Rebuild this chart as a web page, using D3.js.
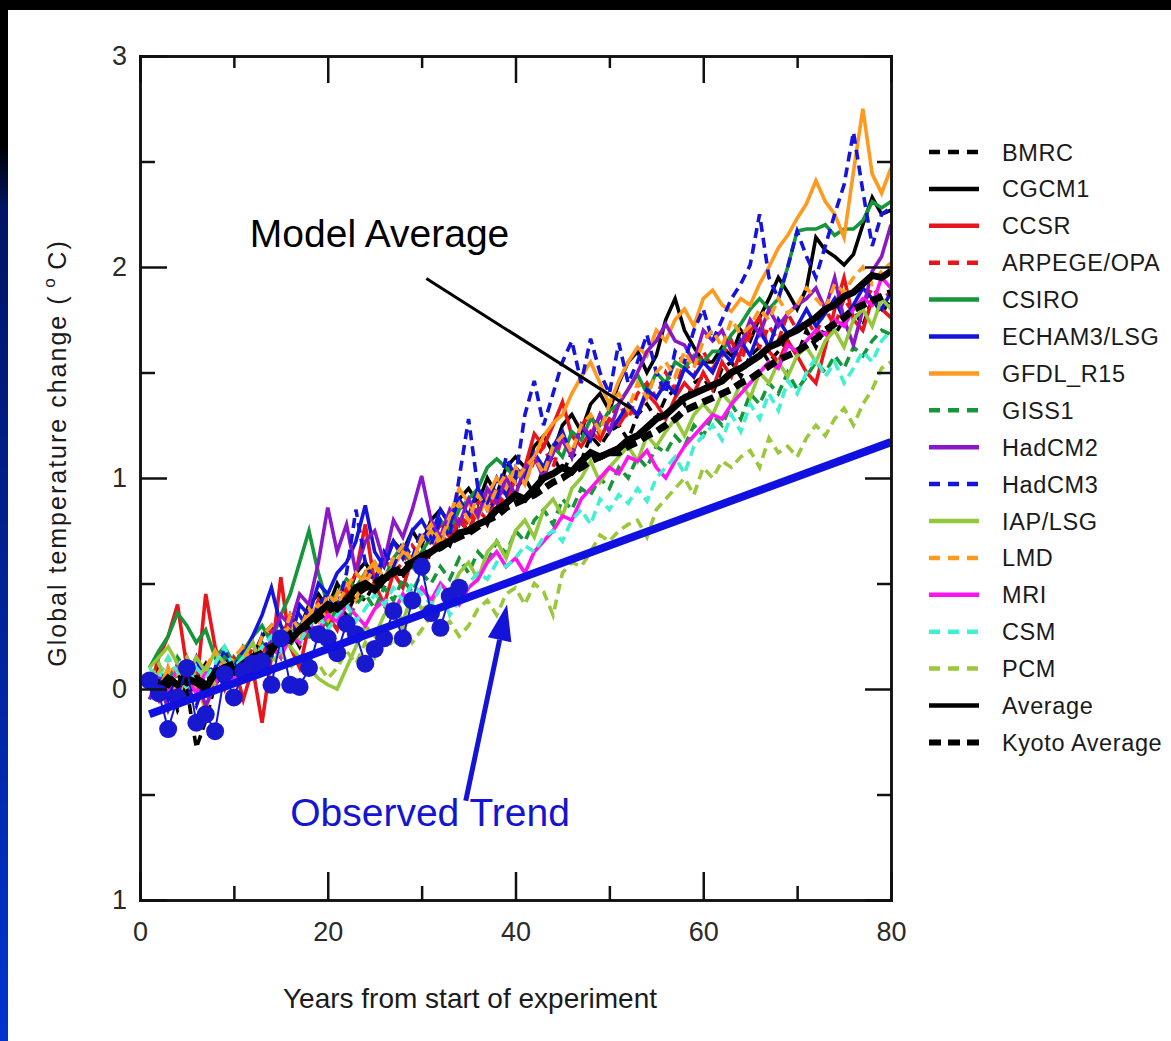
<!DOCTYPE html>
<html><head><meta charset="utf-8">
<script src="https://cdn.jsdelivr.net/npm/d3@7"></script>
<style>body{margin:0;background:#fff;overflow:hidden}svg{display:block}</style>
</head><body><svg id="c" width="1171" height="1041"></svg>
<script>
// ---------- DATA ----------
const years = d3.range(1, 81);
const BMRC = [0.02,-0.05,0.05,-0.10,0.00,-0.28,-0.15,0.02,0.08,0.05, 0.12,0.05,0.18,0.22,0.15,0.28,0.20,0.30,0.35,0.28, 0.40,0.35,0.45,0.42,0.50,0.48,0.58,0.52,0.60,0.55, 0.65,0.72,0.68,0.80,0.75,0.85,0.78,0.90,0.88,0.95, 1.00,0.92,1.05,1.10,1.02,1.12,1.08,1.20,1.15,1.22, 1.25,1.18,1.30,1.35,1.28,1.38,1.42,1.35,1.45,1.48, 1.40,1.52,1.55,1.48,1.58,1.62,1.55,1.60,1.65,1.58, 1.70,1.62,1.72,1.68,1.75,1.80,1.72,1.85,1.78,1.85];
const CGCM1 = [0.05,0.10,0.00,0.08,-0.05,0.05,0.12,0.02,0.15,0.10, 0.20,0.15,0.25,0.30,0.22,0.35,0.28,0.40,0.45,0.38, 0.50,0.42,0.55,0.60,0.52,0.62,0.70,0.65,0.75,0.68, 0.80,0.85,0.78,0.90,0.95,0.88,1.00,0.92,1.05,1.10, 1.05,1.15,1.20,1.12,1.25,1.30,1.22,1.35,1.40,1.32, 1.45,1.55,1.60,1.50,1.58,1.75,1.85,1.70,1.62,1.55, 1.55,1.62,1.58,1.70,1.65,1.76,1.85,1.95,1.88,1.80, 1.90,2.14,2.08,2.05,2.01,2.06,2.20,2.33,2.25,2.27];
const CCSR = [0.00,0.15,0.25,0.40,0.10,0.00,0.45,0.20,0.05,0.12, -0.05,0.10,-0.16,0.15,0.53,0.20,0.10,0.30,0.25,0.35, 0.28,0.45,0.55,0.78,0.50,0.40,0.55,0.48,0.62,0.58, 0.65,0.72,0.70,0.80,0.75,0.85,0.80,0.92,0.88,1.00, 1.05,1.21,1.15,1.25,1.36,1.20,1.15,1.22,1.18,1.28, 1.25,1.32,1.30,1.40,1.35,1.28,1.38,1.45,1.40,1.50, 1.42,1.55,1.48,1.60,1.70,1.76,1.60,1.55,1.65,1.58, 1.50,1.45,1.62,1.80,1.95,1.75,1.70,1.85,1.80,1.76];
const ARPEGE = [0.05,-0.05,0.10,0.00,0.15,0.05,-0.05,0.10,0.00,0.15, 0.10,0.20,0.15,0.28,0.22,0.35,0.25,0.30,0.42,0.35, 0.40,0.48,0.42,0.55,0.50,0.62,0.55,0.60,0.68,0.62, 0.70,0.78,0.72,0.82,0.78,0.88,0.92,0.85,0.98,1.05, 0.98,1.08,1.15,1.05,1.20,1.12,1.25,1.30,1.20,1.28, 1.35,1.28,1.40,1.45,1.38,1.50,1.42,1.55,1.48,1.60, 1.52,1.58,1.65,1.55,1.68,1.62,1.72,1.65,1.78,1.70, 1.75,1.68,1.80,1.72,1.85,1.78,1.82,1.90,1.85,1.88];
const CSIRO = [0.10,0.18,0.25,0.36,0.30,0.22,0.28,0.15,0.20,0.12, 0.18,0.25,0.30,0.22,0.35,0.45,0.60,0.75,0.55,0.40, 0.45,0.52,0.48,0.55,0.60,0.52,0.62,0.68,0.58,0.65, 0.72,0.80,0.75,0.85,0.90,0.95,1.05,1.09,1.05,1.00, 1.03,1.10,1.05,1.15,1.10,1.22,1.18,1.28,1.25,1.32, 1.35,1.42,1.49,1.40,1.50,1.45,1.55,1.52,1.58,1.55, 1.60,1.60,1.68,1.73,1.80,1.85,1.80,1.85,2.00,2.17, 2.18,2.18,2.20,2.15,2.18,2.18,2.22,2.31,2.28,2.31];
const ECHAM3 = [0.00,0.08,-0.02,0.12,0.05,0.15,0.00,0.10,0.18,0.08, 0.15,0.25,0.35,0.48,0.30,0.22,0.40,0.35,0.50,0.45, 0.55,0.60,0.70,0.87,0.65,0.58,0.70,0.62,0.75,0.80, 0.72,0.85,0.78,0.90,0.82,0.95,0.88,1.00,0.92,1.05, 1.00,1.12,1.05,1.15,1.22,1.10,1.25,1.18,1.30,1.22, 1.28,1.35,1.30,1.42,1.38,1.45,1.40,1.52,1.48,1.55, 1.50,1.60,1.55,1.65,1.58,1.70,1.62,1.75,1.68,1.72, 1.80,1.72,1.78,1.85,1.75,1.82,1.90,1.85,1.80,1.88];
const GFDL = [0.05,0.00,0.10,-0.05,0.08,0.02,-0.10,0.05,0.12,0.08, 0.15,0.10,0.22,0.18,0.25,0.30,0.22,0.35,0.40,0.32, 0.45,0.50,0.42,0.55,0.60,0.52,0.58,0.65,0.62,0.70, 0.75,0.68,0.82,0.95,0.88,0.81,0.92,1.00,0.95,1.05, 0.97,1.10,1.20,1.26,1.30,1.40,1.48,1.55,1.45,1.35, 1.46,1.55,1.62,1.58,1.70,1.65,1.75,1.80,1.72,1.85, 1.89,1.82,1.79,1.85,1.82,1.92,2.00,2.09,2.15,2.23, 2.30,2.41,2.31,2.25,2.14,2.45,2.75,2.44,2.35,2.47];
const GISS1 = [0.05,0.12,0.02,0.15,0.08,0.00,0.10,0.05,0.15,0.10, 0.18,0.10,0.22,0.15,0.25,0.20,0.30,0.25,0.35,0.30, 0.38,0.32,0.40,0.45,0.38,0.48,0.42,0.52,0.46,0.55, 0.50,0.58,0.52,0.62,0.55,0.65,0.60,0.70,0.64,0.75, 0.70,0.80,0.85,0.78,0.90,0.85,0.95,0.92,1.00,0.95, 1.05,1.00,1.10,1.05,1.15,1.12,1.20,1.15,1.25,1.20, 1.30,1.25,1.35,1.28,1.40,1.35,1.45,1.40,1.50,1.42, 1.48,1.55,1.50,1.58,1.52,1.62,1.58,1.65,1.70,1.68];
const HadCM2 = [-0.05,0.05,-0.10,0.00,0.10,0.05,-0.08,0.02,0.12,0.08, 0.15,0.22,0.10,0.25,0.35,0.30,0.45,0.40,0.60,0.86, 0.65,0.78,0.55,0.70,0.75,0.60,0.80,0.72,0.85,1.01, 0.80,0.72,0.85,0.78,0.90,0.82,0.95,0.88,1.00,0.92, 1.05,1.10,1.00,1.12,1.18,1.10,1.25,1.20,1.30,1.22, 1.35,1.42,1.50,1.60,1.65,1.73,1.65,1.63,1.55,1.70, 1.65,1.70,1.60,1.63,1.75,1.68,1.80,1.72,1.78,1.82, 1.85,1.90,1.80,1.95,1.75,1.63,1.80,1.98,2.05,2.20];
const HadCM3 = [0.00,0.05,-0.05,0.10,0.02,-0.08,0.05,0.12,0.00,0.10, 0.18,0.10,0.25,0.15,0.30,0.22,0.35,0.28,0.40,0.45, 0.38,0.55,0.85,0.60,0.50,0.65,0.58,0.70,0.62,0.75, 0.68,0.80,0.72,1.00,1.28,0.95,0.85,0.90,1.10,1.00, 1.30,1.46,1.25,1.40,1.55,1.65,1.45,1.66,1.50,1.40, 1.64,1.45,1.55,1.68,1.50,1.40,1.60,1.55,1.70,1.80, 1.65,1.75,1.85,1.92,2.01,2.25,1.95,1.85,2.00,2.17, 2.05,1.95,2.10,2.25,2.39,2.64,2.36,2.10,2.25,2.28];
const IAPLSG = [0.10,0.15,0.20,0.12,0.05,0.15,0.08,0.18,0.12,0.05, 0.15,0.22,0.10,0.18,0.25,0.20,0.15,0.10,0.05,0.02, 0.00,0.10,0.20,0.30,0.25,0.35,0.40,0.32,0.45,0.38, 0.40,0.50,0.45,0.55,0.60,0.52,0.65,0.70,0.62,0.75, 0.80,0.72,0.85,0.90,0.82,0.95,1.00,1.08,0.98,1.05, 1.10,1.15,1.08,1.20,1.15,1.22,1.28,1.20,1.30,1.35, 1.30,1.40,1.35,1.45,1.38,1.50,1.45,1.55,1.48,1.58, 1.62,1.55,1.65,1.70,1.62,1.75,1.80,1.72,1.85,1.80];
const LMD = [0.00,0.08,0.15,0.05,0.12,0.00,0.10,0.18,0.08,0.15, 0.20,0.12,0.25,0.30,0.22,0.35,0.28,0.38,0.32,0.45, 0.40,0.48,0.55,0.50,0.58,0.52,0.62,0.68,0.60,0.72, 0.78,0.70,0.82,0.88,0.80,0.92,0.85,0.95,1.02,0.98, 1.05,1.10,1.02,1.15,1.20,1.12,1.25,1.30,1.22,1.35, 1.40,1.32,1.45,1.38,1.50,1.55,1.48,1.60,1.52,1.65, 1.70,1.62,1.75,1.68,1.72,1.80,1.75,1.85,1.78,1.82, 1.90,1.85,1.80,1.92,1.88,1.95,2.00,1.92,1.98,2.02];
const MRI = [0.05,-0.05,0.00,0.10,0.05,-0.02,0.08,0.02,0.12,0.05, 0.10,0.15,0.08,0.20,0.15,0.25,0.22,0.30,0.28,0.35, 0.32,0.40,0.35,0.30,0.38,0.42,0.36,0.45,0.40,0.48, 0.42,0.50,0.45,0.40,0.48,0.52,0.60,0.65,0.58,0.62, 0.55,0.65,0.70,0.75,0.82,0.80,0.90,0.95,1.00,1.05, 1.02,1.10,1.08,1.13,1.05,1.00,1.08,1.15,1.20,1.25, 1.30,1.28,1.35,1.40,1.45,1.50,1.55,1.52,1.63,1.60, 1.65,1.70,1.68,1.75,1.72,1.80,1.85,1.82,1.95,1.90];
const CSM = [0.10,0.05,0.15,0.08,0.00,0.10,0.05,0.12,0.20,0.10, 0.15,0.12,0.20,0.25,0.18,0.28,0.22,0.30,0.35,0.28, 0.35,0.40,0.32,0.38,0.45,0.40,0.48,0.42,0.50,0.45, 0.40,0.48,0.35,0.42,0.50,0.55,0.52,0.60,0.58,0.62, 0.68,0.65,0.72,0.75,0.70,0.80,0.85,0.78,0.90,0.85, 0.92,0.88,0.95,0.89,1.00,1.05,1.10,1.02,1.15,1.20, 1.25,1.18,1.30,1.22,1.35,1.28,1.40,1.32,1.46,1.40, 1.50,1.57,1.48,1.55,1.45,1.52,1.60,1.55,1.65,1.70];
const PCM = [0.05,0.12,0.00,0.08,0.15,0.05,0.10,0.02,0.12,0.08, 0.15,0.10,0.05,0.12,0.18,0.10,0.15,0.08,0.12,0.05, 0.10,0.18,0.12,0.22,0.15,0.25,0.20,0.30,0.22,0.28, 0.35,0.28,0.32,0.25,0.30,0.38,0.42,0.35,0.45,0.48, 0.40,0.50,0.46,0.35,0.55,0.60,0.58,0.65,0.73,0.70, 0.75,0.78,0.80,0.72,0.85,0.90,0.95,1.00,0.92,1.05, 1.00,1.08,1.05,1.10,1.13,1.05,1.19,1.12,1.15,1.10, 1.19,1.25,1.20,1.28,1.33,1.25,1.35,1.42,1.52,1.55];
const AVERAGE = [0.02,0.00,0.05,0.02,0.05,0.03,0.00,0.08,0.10,0.08, 0.12,0.15,0.13,0.18,0.25,0.23,0.28,0.32,0.36,0.40, 0.38,0.42,0.48,0.50,0.47,0.52,0.56,0.55,0.60,0.63, 0.65,0.68,0.70,0.74,0.75,0.78,0.80,0.85,0.88,0.92, 0.90,0.95,1.00,1.02,1.05,1.03,1.08,1.12,1.10,1.12, 1.14,1.18,1.20,1.24,1.28,1.30,1.34,1.38,1.40,1.42, 1.44,1.46,1.50,1.52,1.55,1.58,1.62,1.64,1.68,1.70, 1.73,1.76,1.80,1.82,1.86,1.88,1.92,1.96,1.95,1.98];
const KYOTO = [0.00,0.03,0.02,0.06,0.03,0.05,0.02,0.07,0.10,0.12, 0.10,0.15,0.17,0.20,0.22,0.26,0.28,0.30,0.34,0.37, 0.40,0.42,0.45,0.48,0.50,0.53,0.55,0.58,0.60,0.62, 0.65,0.67,0.70,0.72,0.74,0.77,0.80,0.82,0.86,0.88, 0.90,0.92,0.95,0.98,1.00,1.03,1.05,1.08,1.10,1.12, 1.12,1.15,1.17,1.20,1.22,1.25,1.28,1.32,1.34,1.36, 1.38,1.40,1.42,1.45,1.47,1.50,1.53,1.56,1.58,1.60, 1.63,1.66,1.70,1.73,1.76,1.80,1.82,1.84,1.86,1.88];

const obsYears = d3.range(1, 35);
const obsValues = [0.04,-0.02,-0.19,-0.04,0.10,-0.16,-0.12,-0.20,0.07,-0.04, 0.085,0.12,0.13,0.02,0.24,0.02,0.01,0.10,0.26,0.24, 0.17,0.31,0.26,0.12,0.19,0.24,0.37,0.24,0.42,0.58, 0.36,0.29,0.44,0.48];
const trendYears = [1, 80];
const trendValues = [-0.12, 1.17];

const seriesNames = ["BMRC","CGCM1","CCSR","ARPEGE/OPA","CSIRO","ECHAM3/LSG","GFDL_R15","GISS1","HadCM2","HadCM3","IAP/LSG","LMD","MRI","CSM","PCM","Average","Kyoto Average"];
const seriesValues = [BMRC,CGCM1,CCSR,ARPEGE,CSIRO,ECHAM3,GFDL,GISS1,HadCM2,HadCM3,IAPLSG,LMD,MRI,CSM,PCM,AVERAGE,KYOTO];
const xTickValues = [0,20,40,60,80];
const xTickLabels = ["0","20","40","60","80"];
const yTickValues = [-1,0,1,2,3];
const yTickLabels = ["1","0","1","2","3"];

// ---------- STYLES ----------
const styles = {
  "BMRC":{c:"#000",d:"10,6"}, "CGCM1":{c:"#000",d:null}, "CCSR":{c:"#e8151b",d:null},
  "ARPEGE/OPA":{c:"#e8151b",d:"10,6"}, "CSIRO":{c:"#16963a",d:null}, "ECHAM3/LSG":{c:"#1414dc",d:null},
  "GFDL_R15":{c:"#ff9a1e",d:null}, "GISS1":{c:"#16963a",d:"10,6"}, "HadCM2":{c:"#8a18c6",d:null},
  "HadCM3":{c:"#1414dc",d:"10,6"}, "IAP/LSG":{c:"#94c83c",d:null}, "LMD":{c:"#ff9a1e",d:"10,6"},
  "MRI":{c:"#ff14f0",d:null}, "CSM":{c:"#40f0d2",d:"10,6"}, "PCM":{c:"#9ac83a",d:"10,6"},
  "Average":{c:"#000",d:null,w:7}, "Kyoto Average":{c:"#000",d:"12,6",w:7}
};
const FONT = "'Liberation Sans', Arial, Helvetica, sans-serif";

// ---------- DRAW ----------
(function(){
const svg = d3.select("#c");
const defs = svg.append("defs");
const g1 = defs.append("linearGradient").attr("id","edge").attr("x1",0).attr("y1",0).attr("x2",0).attr("y2",1);
g1.append("stop").attr("offset","0").attr("stop-color","#000");
g1.append("stop").attr("offset","0.14").attr("stop-color","#000");
g1.append("stop").attr("offset","0.2").attr("stop-color","#001565");
g1.append("stop").attr("offset","1").attr("stop-color","#0034d0");
svg.append("rect").attr("width",1171).attr("height",1041).attr("fill","#fff");
svg.append("rect").attr("x",0).attr("y",0).attr("width",8).attr("height",1041).attr("fill","url(#edge)");
svg.append("rect").attr("x",0).attr("y",0).attr("width",1171).attr("height",10).attr("fill","#000");

const x = d3.scaleLinear().domain([0,80]).range([140,891]);
const y = d3.scaleLinear().domain([-1,3]).range([900,56]);

const plot = svg.append("g");
const line = d3.line().x(d=>x(d[0])).y(d=>y(d[1]));

seriesNames.forEach((name,i)=>{
  const st = styles[name];
  plot.append("path")
    .datum(years.map((yr,j)=>[yr, seriesValues[i][j]]))
    .attr("d", line).attr("fill","none")
    .attr("stroke", st.c).attr("stroke-width", st.w||3.6)
    .attr("stroke-dasharray", st.d)
    .attr("stroke-linejoin","miter");
});

// observed
const obsPts = obsYears.map((yr,i)=>[yr, obsValues[i]]);
plot.append("path").datum(obsPts).attr("d",line).attr("fill","none").attr("stroke","#1818d0").attr("stroke-width",2);
plot.selectAll("circle.obs").data(obsPts).join("circle").attr("class","obs")
  .attr("cx",d=>x(d[0])).attr("cy",d=>y(d[1])).attr("r",9).attr("fill","#1818d0");
plot.append("path").datum(trendYears.map((yr,i)=>[yr,trendValues[i]]))
  .attr("d",line).attr("stroke","#1010e0").attr("stroke-width",8).attr("fill","none");

// axes
const axG = svg.append("g");
const axBottom = d3.axisBottom(x).tickValues([10,30,50,70]).tickSize(-14).tickFormat("");
const axBottomMaj = d3.axisBottom(x).tickValues(xTickValues).tickSize(-28).tickFormat((d,i)=>xTickLabels[i]).tickPadding(22);
const axTop = d3.axisTop(x).tickValues([10,30,50,70]).tickSize(-12).tickFormat("");
const axTopMaj = d3.axisTop(x).tickValues(xTickValues).tickSize(-27).tickFormat("");
const axLeft = d3.axisLeft(y).tickValues([-0.5,0.5,1.5,2.5]).tickSize(-15).tickFormat("");
const axLeftMaj = d3.axisLeft(y).tickValues(yTickValues).tickSize(-27).tickFormat((d,i)=>yTickLabels[i]).tickPadding(13);
const axRight = d3.axisRight(y).tickValues([-0.5,0.5,1.5,2.5]).tickSize(-14).tickFormat("");
const axRightMaj = d3.axisRight(y).tickValues(yTickValues).tickSize(-26).tickFormat("");
[[axBottom,"translate(0,900)"],[axBottomMaj,"translate(0,900)"],[axTop,"translate(0,56)"],[axTopMaj,"translate(0,56)"],
 [axLeft,"translate(140,0)"],[axLeftMaj,"translate(140,0)"],[axRight,"translate(891,0)"],[axRightMaj,"translate(891,0)"]]
 .forEach(([ax,tr])=>{
   const g = axG.append("g").attr("transform",tr).call(ax);
   g.selectAll("path.domain").attr("stroke","#111").attr("stroke-width",2.5);
   g.selectAll(".tick line").attr("stroke","#111").attr("stroke-width",2.5);
   g.selectAll(".tick text").attr("font-family",FONT).attr("font-size",27).attr("fill","#2a2a2a");
 });

// axis titles
svg.append("text").attr("x",470).attr("y",1008).attr("text-anchor","middle")
  .attr("font-family",FONT).attr("font-size",28).attr("fill","#1a1a1a").text("Years from start of experiment");
const yt = svg.append("text").attr("transform","translate(66,453) rotate(-90)").attr("text-anchor","middle")
  .attr("font-family",FONT).attr("font-size",25).attr("letter-spacing",2).attr("fill","#1a1a1a");
yt.append("tspan").text("Global temperature change (");
yt.append("tspan").attr("font-size",17).attr("dy",-11).text(" o ");
yt.append("tspan").attr("dy",11).text("C)");

// annotations (data coordinates)
const annModel = {text:"Model Average", tx:11.7, ty:2.095, ax1:30.5, ay1:1.945, ax2:52.3, ay2:1.33};
const annObs = {text:"Observed Trend", tx:16.0, ty:-0.65, ax1:34.7, ay1:-0.53, ax2:39.1, ay2:0.40};
svg.append("text").attr("x",x(annModel.tx)).attr("y",y(annModel.ty)).attr("font-family",FONT)
  .attr("font-size",39).attr("fill","#000").text(annModel.text);
svg.append("line").attr("x1",x(annModel.ax1)).attr("y1",y(annModel.ay1)).attr("x2",x(annModel.ax2)).attr("y2",y(annModel.ay2))
  .attr("stroke","#000").attr("stroke-width",3);
svg.append("text").attr("x",x(annObs.tx)).attr("y",y(annObs.ty)).attr("font-family",FONT)
  .attr("font-size",39).attr("fill","#1414d2").text(annObs.text);
{
  const x1=x(annObs.ax1), y1=y(annObs.ay1), x2=x(annObs.ax2), y2=y(annObs.ay2);
  const ang=Math.atan2(y2-y1,x2-x1), L=36, W=12;
  const bx=x2-L*Math.cos(ang), by=y2-L*Math.sin(ang);
  svg.append("line").attr("x1",x1).attr("y1",y1).attr("x2",bx).attr("y2",by).attr("stroke","#1414d8").attr("stroke-width",5);
  svg.append("path").attr("d",`M${x2},${y2}L${bx+W*Math.sin(ang)},${by-W*Math.cos(ang)}L${bx-W*Math.sin(ang)},${by+W*Math.cos(ang)}Z`).attr("fill","#1414d8");
}

// legend
const leg = svg.append("g");
seriesNames.forEach((name,i)=>{
  const st = styles[name];
  const yy = 152 + i*36.9;
  const isAvg = name==="Average"||name==="Kyoto Average";
  leg.append("line").attr("x1",929).attr("x2",979).attr("y1",yy).attr("y2",yy)
    .attr("stroke",st.c).attr("stroke-width", name==="Kyoto Average"?6:4.5)
    .attr("stroke-dasharray", st.d ? (isAvg?"12,7":"11,8") : null);
  leg.append("text").attr("x",1002).attr("y",yy+8.5).attr("font-family",FONT).attr("font-size",23.5)
    .attr("letter-spacing",0.6).attr("fill","#1a1a1a").text(name);
});
})();
</script></body></html>
